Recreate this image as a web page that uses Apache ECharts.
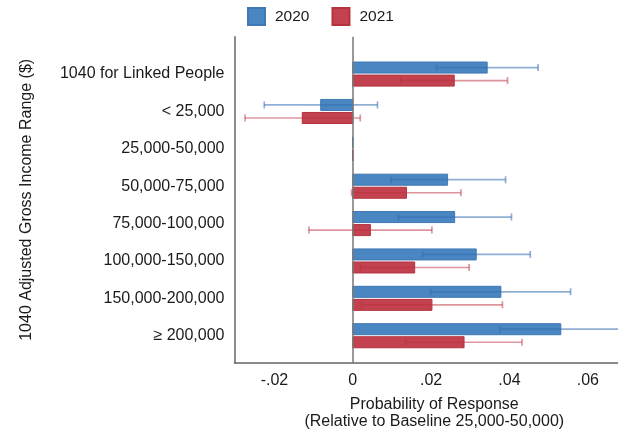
<!DOCTYPE html>
<html>
<head>
<meta charset="utf-8">
<script src="https://cdn.jsdelivr.net/npm/echarts@6/dist/echarts.min.js"></script>
<style>
  html, body { margin: 0; padding: 0; background: #fff; }
  #chart { width: 618px; height: 435px; }
</style>
</head>
<body>
<div id="chart"></div>
<script>
// Income ranges, top to bottom
var categories = [
  '1040 for Linked People', '< 25,000', '25,000-50,000', '50,000-75,000',
  '75,000-100,000', '100,000-150,000', '150,000-200,000', '\u2265 200,000'
];

// Point estimates and confidence bounds, 2020
var est2020  = [0.0343, -0.0082, 0, 0.0242, 0.0260, 0.0315, 0.0378, 0.0531];
var low2020  = [0.0214, -0.0226, 0, 0.0097, 0.0116, 0.0178, 0.0199, 0.0376];
var high2020 = [0.0473,  0.0063, 0, 0.0390, 0.0405, 0.0453, 0.0556, 0.0686];

// Point estimates and confidence bounds, 2021
var est2021  = [0.0259, -0.0129, 0,  0.0137,  0.0045, 0.0158, 0.0202, 0.0284];
var low2021  = [0.0122, -0.0275, 0, -0.0003, -0.0112, 0.0020, 0.0022, 0.0135];
var high2021 = [0.0395,  0.0019, 0,  0.0276,  0.0202, 0.0297, 0.0382, 0.0432];

var xTicks = [-0.02, 0, 0.02, 0.04, 0.06];

var FONT = '"Liberation Sans", Arial, Helvetica, sans-serif';

function rows(est, low, high) {
  return est.map(function (v, i) { return [v, i, low[i], high[i]]; });
}

// Bars with error whiskers; side -1 = upper bar in the band, +1 = lower bar
function makeRenderer(side, fill, stroke, whisker) {
  return function (params, api) {
    var v = api.value(0), row = api.value(1), lo = api.value(2), hi = api.value(3);
    var band = api.size([0, 1])[1];
    var barH = band * 0.295;
    var gap = band * 0.027;
    var base = api.coord([0, row]);
    var end = api.coord([v, row]);
    var yTop = side < 0 ? base[1] - gap - barH : base[1] + gap;
    var yMid = yTop + barH / 2;
    var x0 = Math.min(base[0], end[0]);
    var w = Math.abs(end[0] - base[0]);
    var children = [{
      type: 'rect',
      shape: { x: x0, y: yTop, width: w, height: barH },
      style: { fill: fill, stroke: stroke, lineWidth: 1 }
    }];
    if (hi !== lo) {
      var pl = api.coord([lo, row])[0];
      var ph = api.coord([hi, row])[0];
      var cap = 3.5;
      var ls = { stroke: whisker, lineWidth: 1.7 };
      children.push(
        { type: 'line', shape: { x1: pl, y1: yMid, x2: ph, y2: yMid }, style: ls },
        { type: 'line', shape: { x1: pl, y1: yMid - cap, x2: pl, y2: yMid + cap }, style: ls },
        { type: 'line', shape: { x1: ph, y1: yMid - cap, x2: ph, y2: yMid + cap }, style: ls }
      );
    }
    return { type: 'group', children: children };
  };
}

var chart = echarts.init(document.getElementById('chart'));
chart.setOption({
  animation: false,
  legend: {
    top: 2,
    left: 242,
    itemWidth: 17,
    itemHeight: 17,
    itemGap: 22,
    icon: 'rect',
    textStyle: { fontFamily: FONT, fontSize: 15.5, color: '#1a1a1a', padding: [0, 0, 0, 5] },
    data: ['2020', '2021']
  },
  grid: { left: 234.5, right: 0, top: 36.7, bottom: 71.7 },
  xAxis: {
    type: 'value',
    min: -0.0302,
    max: 0.0677,
    splitLine: { show: false },
    axisTick: { show: false },
    axisLine: { show: true, onZero: false, lineStyle: { color: '#666', width: 1.5 } },
    axisLabel: {
      customValues: xTicks,
      margin: 10,
      fontFamily: FONT, fontSize: 16, color: '#1a1a1a',
      formatter: function (v) {
        if (Math.abs(v) < 1e-9) return '0';
        return v.toFixed(2).replace('0.', '.');
      }
    },
    name: 'Probability of Response\n(Relative to Baseline 25,000-50,000)',
    nameLocation: 'middle',
    nameGap: 33,
    nameTextStyle: { fontFamily: FONT, fontSize: 16, color: '#1a1a1a', lineHeight: 17, padding: [0, 0, 0, 16] }
  },
  yAxis: {
    type: 'value',
    inverse: true,
    min: -1,
    max: 7.73,
    splitLine: { show: false },
    axisTick: { show: false },
    axisLine: { show: true, onZero: false, lineStyle: { color: '#666', width: 1.5 } },
    axisLabel: {
      customValues: categories.map(function (c, i) { return i; }),
      margin: 10,
      fontFamily: FONT, fontSize: 16, color: '#1a1a1a',
      formatter: function (v) { return categories[Math.round(v)] || ''; }
    },
    name: '1040 Adjusted Gross Income Range ($)',
    nameLocation: 'middle',
    nameRotate: 90,
    nameGap: 200,
    nameTextStyle: { fontFamily: FONT, fontSize: 16, color: '#1a1a1a' }
  },
  series: [
    {
      name: '2020',
      type: 'custom',
      clip: true,
      itemStyle: { color: '#4a86c1', borderColor: '#3f78b5', borderWidth: 1 },
      renderItem: makeRenderer(-1, '#4a86c1', '#3f78b5', 'rgba(52,110,176,0.55)'),
      encode: { x: [0, 2, 3], y: 1 },
      data: rows(est2020, low2020, high2020),
      markLine: {
        silent: true,
        symbol: 'none',
        label: { show: false },
        lineStyle: { color: '#777', width: 1.5, type: 'solid' },
        data: [{ xAxis: 0 }]
      },
      z: 3
    },
    {
      name: '2021',
      type: 'custom',
      clip: true,
      itemStyle: { color: '#c2434f', borderColor: '#b5323f', borderWidth: 1 },
      renderItem: makeRenderer(1, '#c2434f', '#b5323f', 'rgba(190,45,62,0.5)'),
      encode: { x: [0, 2, 3], y: 1 },
      data: rows(est2021, low2021, high2021),
      z: 3
    }
  ]
});
</script>
</body>
</html>
